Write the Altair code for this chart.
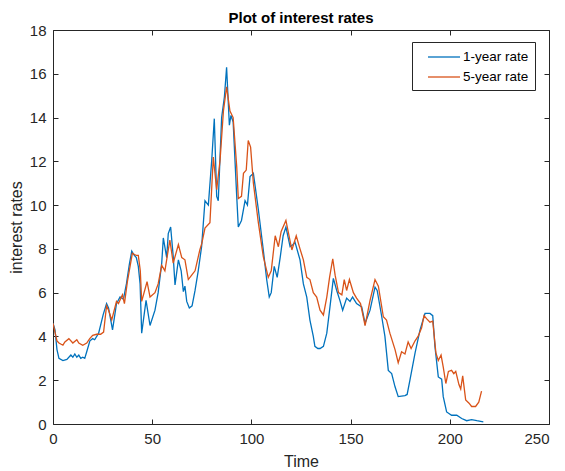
import altair as alt
import pandas as pd

# 1-year rate (time, value)
t1 = [0, 1, 2, 3, 5, 7, 9, 10, 11, 12, 13, 14, 15, 16, 17, 18.6, 20, 21, 23, 25.3, 27, 28, 30, 32, 33.8, 35.5, 37, 38.5, 39.7, 41, 42, 43, 43.9, 44.7, 46.9, 48.9, 51.4, 53, 54.8, 55.6, 57.3, 58.1, 59.3, 60.6, 61.5, 63.2, 64.6, 65.7, 66.5, 67.4, 68.7, 70.1, 71.6, 73.2, 74.9, 76.6, 78.3, 80, 81.3, 82.5, 83.3, 85, 86.4, 87.5, 88.9, 89.7, 90.8, 92.6, 93.4, 95, 96.8, 98, 99.3, 101, 103.5, 106, 107.7, 109, 110, 111.5, 113, 114.5, 116, 117.4, 119.5, 121, 122, 124.5, 126.2, 127.9, 129.5, 131.2, 132, 133.5, 134.6, 136.3, 138, 139.6, 141.3, 143, 144.6, 146, 148, 149.7, 151, 153, 155.6, 157.3, 159.8, 162.3, 163.4, 165.7, 167.3, 169, 170.7, 172.4, 174, 177.4, 178.5, 180, 182.5, 185, 187.5, 190, 191.4, 192.5, 194.2, 195.9, 196.7, 198.4, 200.9, 203.5, 206, 208.5, 211, 213.6, 216.9]
v1 = [4.6, 4.3, 3.4, 3.0, 2.9, 2.95, 3.15, 3.05, 3.2, 3.05, 3.15, 3.0, 3.05, 3.0, 3.3, 3.8, 3.9, 3.85, 4.15, 5.0, 5.5, 5.3, 4.3, 5.5, 5.8, 5.7, 6.4, 7.3, 7.9, 7.7, 7.6, 7.2, 6.4, 4.15, 5.65, 4.5, 5.2, 6.0, 7.35, 8.5, 7.6, 8.7, 9.0, 7.65, 6.35, 7.5, 7.0, 6.05, 6.3, 5.6, 5.3, 5.4, 6.1, 7.0, 8.1, 10.2, 10.0, 12.05, 13.95, 10.4, 10.2, 14.0, 14.95, 16.3, 13.65, 14.1, 13.8, 10.4, 9.0, 9.3, 10.2, 10.0, 11.3, 11.45, 9.8, 7.95, 6.6, 5.8, 6.0, 7.2, 6.7, 7.6, 8.6, 9.0, 8.1, 8.2, 8.3, 7.5, 6.4, 5.8, 4.75, 4.0, 3.55, 3.45, 3.45, 3.55, 4.15, 5.35, 6.65, 6.1, 5.65, 5.2, 5.75, 5.6, 5.8, 5.5, 5.35, 4.6, 5.2, 6.25, 6.1, 4.9, 4.0, 2.45, 2.3, 1.7, 1.25, 1.3, 1.35, 2.05, 3.25, 4.3, 5.05, 5.05, 4.95, 3.55, 2.15, 2.05, 1.25, 0.55, 0.4, 0.4, 0.25, 0.15, 0.2, 0.15, 0.1]

# 5-year rate (time, value)
t5 = [0, 1, 2, 3, 5, 6, 8, 10, 12, 13, 15, 17, 18.5, 20, 22, 24, 25.5, 27, 28, 29.6, 32, 33, 35, 36, 37.5, 40, 42, 43, 44, 44.7, 47.4, 48.9, 51.4, 53, 54.8, 56.4, 58.9, 60.6, 63.2, 64.9, 66.5, 68.2, 69.9, 71.6, 74, 75, 76.6, 79.1, 80.8, 82.5, 84.2, 85.9, 87.5, 89.2, 90.8, 92.6, 93.4, 95, 96, 97.4, 98.4, 99.6, 101, 103.5, 106, 108.5, 110, 112, 113.6, 115, 117.4, 120.4, 122.6, 124.5, 126.2, 127.9, 129.5, 131.2, 132.9, 134.6, 136.3, 138, 139.4, 141, 142.2, 143.9, 145.6, 146.8, 148, 149.4, 151.4, 153, 155, 157.3, 159.8, 162.3, 164, 166.5, 168.1, 169.8, 172.4, 174, 175.7, 177.4, 179, 180.5, 182.5, 184, 185.8, 187, 188.4, 190, 191.4, 193, 194.2, 195.6, 196.7, 198, 199.3, 200.9, 202, 203, 204.6, 205.5, 206.5, 208, 209.7, 211, 213, 214.6, 216]
v5 = [4.6, 4.2, 3.8, 3.7, 3.6, 3.75, 3.9, 3.7, 3.85, 3.7, 3.6, 3.7, 3.9, 4.05, 4.1, 4.1, 4.2, 5.4, 5.2, 4.75, 5.6, 5.5, 5.9, 5.5, 6.5, 7.8, 7.7, 7.7, 7.0, 5.6, 6.5, 5.8, 6.0, 6.4, 7.25, 7.0, 8.4, 7.35, 8.2, 7.6, 7.5, 6.6, 6.8, 7.0, 7.95, 8.25, 8.95, 9.2, 12.2, 10.7, 12.05, 14.3, 15.4, 14.3, 14.0, 11.75, 10.3, 10.4, 11.45, 11.6, 12.95, 12.65, 11.0, 9.2, 7.65, 6.7, 7.0, 8.6, 8.1, 8.8, 9.3, 7.95, 8.6, 8.0, 7.5, 6.7, 6.6, 6.0, 5.8, 5.2, 4.98, 5.8, 6.7, 7.55, 6.8, 6.0, 5.9, 6.6, 6.1, 6.6, 6.0, 5.75, 5.5, 4.5, 5.65, 6.6, 6.3, 4.9, 4.75, 4.15, 3.4, 2.8, 3.3, 3.2, 3.75, 3.45, 3.8, 4.0, 4.4, 4.95, 4.8, 4.65, 4.7, 3.25, 2.9, 3.15, 2.6, 1.85, 2.4, 2.45, 2.3, 2.4, 1.8, 1.6, 2.2, 1.1, 0.95, 0.8, 0.8, 1.0, 1.5]

series_names = ["1-year rate", "5-year rate"]
x_ticks = [0, 50, 100, 150, 200, 250]
y_ticks = [0, 2, 4, 6, 8, 10, 12, 14, 16, 18]

df = pd.concat([
    pd.DataFrame({"t": t1, "v": v1, "s": series_names[0], "o": range(len(t1))}),
    pd.DataFrame({"t": t5, "v": v5, "s": series_names[1], "o": range(len(t5))}),
])

FONT = "Liberation Sans"
TXT = "#262626"

x_scale = alt.Scale(domain=[0, 250], nice=False, zero=False)
y_scale = alt.Scale(domain=[0, 18], nice=False)

tick_axis = dict(grid=False, domain=False, tickSize=5, offset=-5, tickColor=TXT,
                 labelColor=TXT, labelFont=FONT, labelFontSize=15, labelFlush=False)
title_axis = dict(titleFont=FONT, titleColor=TXT, titleFontSize=16, titleFontWeight="normal")

main = alt.Chart(df).mark_line(strokeWidth=1.3, clip=True).encode(
    x=alt.X("t:Q", scale=x_scale,
            axis=alt.Axis(values=x_ticks, title="Time", labelPadding=7, titlePadding=7,
                          labelAlign={"expr": "datum.value == 250 ? 'right' : 'center'"},
                          **tick_axis, **title_axis)),
    y=alt.Y("v:Q", scale=y_scale,
            axis=alt.Axis(values=y_ticks, title="interest rates", labelPadding=7, titlePadding=5,
                          **tick_axis, **title_axis)),
    color=alt.Color("s:N", scale=alt.Scale(domain=series_names, range=["#0072BD", "#D95319"]),
                    legend=alt.Legend(title=None, orient="none", legendX=359, legendY=12,
                                      fillColor="white", strokeColor="#262626", padding=6,
                                      symbolType="M-2,0H2", symbolSize=256, symbolStrokeWidth=1.3,
                                      symbolOffset=17, labelOffset=10,
                                      labelFont=FONT, labelFontSize=13.5, labelColor="black",
                                      rowPadding=4)),
    order="o:Q",
)

frame = alt.Chart(df).mark_line(opacity=0).encode(
    x=alt.X("t:Q", scale=x_scale,
            axis=alt.Axis(values=x_ticks, orient="top", labels=False, title=None, **tick_axis)),
    y=alt.Y("v:Q", scale=y_scale,
            axis=alt.Axis(values=y_ticks, orient="right", labels=False, title=None, **tick_axis)),
    detail="s:N",
)

chart = alt.layer(main, frame).resolve_axis(x="independent", y="independent").properties(
    width=496, height=394,
    title=alt.TitleParams("Plot of interest rates", font=FONT, fontSize=15, fontWeight="bold",
                          color="black", offset=-3, anchor="middle"),
    autosize=alt.AutoSizeParams(type="none"),
    padding={"left": 45, "top": 22, "right": 8, "bottom": 45},
).configure_view(stroke="#262626", strokeWidth=1)

chart.save("out.html", embed_options={"renderer": "svg", "actions": False})
